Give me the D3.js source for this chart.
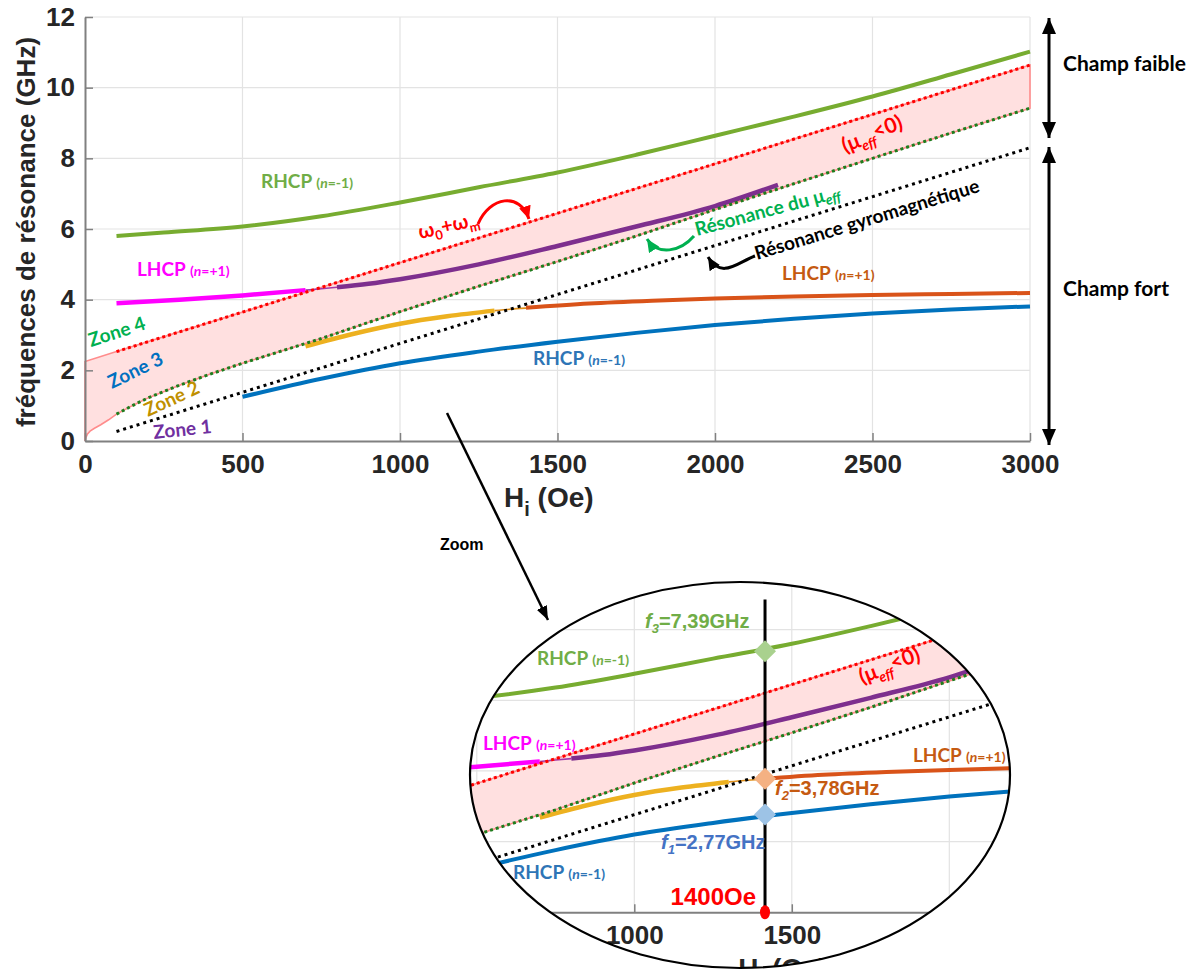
<!DOCTYPE html>
<html><head><meta charset="utf-8">
<script src="https://cdn.jsdelivr.net/npm/d3@7"></script>
<style>body{margin:0;background:#fff}svg{display:block}</style>
</head><body>
<svg id="c" width="1200" height="971"></svg>
<script>
// ---------------- DATA ----------------
const xTicks = [0, 500, 1000, 1500, 2000, 2500, 3000];
const yTicks = [0, 2, 4, 6, 8, 10, 12];
const insetXLabels = [1000, 1500];

// RHCP (n=-1) upper branch (green)
const rhcpUpH = [100, 250, 500, 750, 1000, 1250, 1500, 1750, 2000, 2250, 2500, 2750, 3000];
const rhcpUpF = [5.80, 5.90, 6.07, 6.36, 6.75, 7.18, 7.60, 8.10, 8.64, 9.18, 9.75, 10.38, 11.02];
// RHCP (n=-1) lower branch (blue)
const rhcpLoH = [500, 750, 1000, 1250, 1500, 1750, 2000, 2250, 2500, 2750, 3000];
const rhcpLoF = [1.25, 1.76, 2.20, 2.53, 2.81, 3.06, 3.28, 3.46, 3.61, 3.72, 3.81];
// LHCP (n=+1) upper branch: magenta part, thin link, purple part
const lhcpMagH = [100, 300, 500, 700];
const lhcpMagF = [3.90, 4.00, 4.12, 4.27];
const lhcpLinkUpH = [700, 750, 800];
const lhcpLinkUpF = [4.27, 4.31, 4.35];
const lhcpPurH = [800, 900, 1000, 1250, 1500, 1750, 2000, 2200];
const lhcpPurF = [4.35, 4.45, 4.58, 5.00, 5.52, 6.07, 6.65, 7.25];
// LHCP (n=+1) lower branch: yellow part, thin link, orange part
const lhcpYelH = [700, 850, 1000, 1150, 1300];
const lhcpYelF = [2.68, 3.03, 3.32, 3.53, 3.69];
const lhcpLinkLoH = [1300, 1350, 1400];
const lhcpLinkLoF = [3.69, 3.73, 3.76];
const lhcpOrH = [1400, 1600, 1800, 2000, 2250, 2500, 2750, 3000];
const lhcpOrF = [3.77, 3.89, 3.97, 4.03, 4.09, 4.13, 4.16, 4.19];
// omega0 + omegam (upper edge of the mu_eff<0 band)
const bandUpH = [0, 100, 3000];
const bandUpF = [2.25, 2.53, 10.64];
// resonance of mu_eff (lower edge of the band)
const bandLoH = [0, 3, 8, 16, 30, 50, 75, 100, 150, 200, 300, 400, 500, 750, 1000, 1250, 1500, 1750, 2000, 2250, 2500, 2750, 3000];
const bandLoF = [0, 0.10, 0.20, 0.28, 0.36, 0.46, 0.60, 0.76, 1.00, 1.22, 1.58, 1.90, 2.20, 2.90, 3.66, 4.38, 5.08, 5.80, 6.55, 7.28, 8.00, 8.72, 9.42];
// gyromagnetic resonance
const gyroH = [100, 3000];
const gyroF = [0.27, 8.30];
// zoom inset markers
const markerH = 1415;
const markerText = "1400Oe";
const markerF = [2.77, 3.78, 7.39];
const markerLabels = ["2,77GHz", "3,78GHz", "7,39GHz"];

// ---------------- SETUP ----------------
const AX = "'Liberation Sans', Arial, sans-serif";
const LB = "Lato, 'Open Sans', sans-serif";
const svg = d3.select('#c');
const x = d3.scaleLinear().domain([0, 3000]).range([85, 1030]);
const y = d3.scaleLinear().domain([0, 12]).range([441, 17]);
const pts = (H, F) => H.map((h, i) => [h, F[i]]);
const curve = d3.line().x(d => x(d[0])).y(d => y(d[1])).curve(d3.curveMonotoneX);
const poly = d3.line().x(d => x(d[0])).y(d => y(d[1]));

const defs = svg.append('defs');
function head(id, color, len, wid) {
  defs.append('marker').attr('id', id).attr('viewBox', `0 0 ${len} ${wid}`)
    .attr('refX', len).attr('refY', wid / 2).attr('markerWidth', len).attr('markerHeight', wid)
    .attr('markerUnits', 'userSpaceOnUse').attr('orient', 'auto-start-reverse')
    .append('path').attr('d', `M0,0L${len},${wid / 2}L0,${wid}Z`).attr('fill', color);
}
head('hBlack', '#000', 16, 14);
head('hZoom', '#000', 14, 11);
head('hRed', '#ff0000', 13, 12);
head('hGreen', '#00b050', 13, 12);
head('hBlk2', '#000', 13, 12);

defs.append('clipPath').attr('id', 'ellClip').append('ellipse')
  .attr('cx', 740).attr('cy', 775).attr('rx', 270).attr('ry', 193);

function rich(parent, x0, y0, parts, o) {
  const t = parent.append('text').attr('x', x0).attr('y', y0).attr('fill', o.color)
    .attr('font-family', o.family || LB).attr('font-weight', o.weight || 'bold').attr('font-size', o.size);
  if (o.rot) t.attr('transform', `rotate(${o.rot},${x0},${y0})`);
  if (o.anchor) t.attr('text-anchor', o.anchor);
  let shift = 0;
  parts.forEach(p => {
    const s = p.shift || 0;
    const ts = t.append('tspan').text(p.t).attr('dy', s - shift);
    shift = s;
    if (p.size) ts.attr('font-size', p.size);
    if (p.italic) ts.attr('font-style', 'italic');
  });
  return t;
}
function nLabel(parent, x0, y0, name, sign, color) {
  return rich(parent, x0, y0, [
    { t: name + ' ' }, { t: '(', size: 14 }, { t: 'n', size: 14, italic: true }, { t: '=' + sign + '1)', size: 14 }
  ], { color: color, size: 19 });
}

function drawPlot(g, opt) {
  // grid
  g.append('g').selectAll('line').data(xTicks.slice(1)).join('line')
    .attr('x1', d => x(d)).attr('x2', d => x(d)).attr('y1', y(0)).attr('y2', y(12))
    .attr('stroke', '#e3e3e3').attr('stroke-width', 1.2);
  g.append('g').selectAll('line').data(yTicks.slice(1)).join('line')
    .attr('x1', x(0)).attr('x2', x(3000)).attr('y1', d => y(d)).attr('y2', d => y(d))
    .attr('stroke', '#e3e3e3').attr('stroke-width', 1.2);
  // band mu_eff < 0
  const bandPoly = pts(bandLoH, bandLoF).concat(pts(bandUpH, bandUpF).reverse());
  g.append('path').attr('d', poly(bandPoly) + 'Z')
    .attr('fill', '#ffe0e0').attr('stroke', '#ff8c8c').attr('stroke-width', 1.6);
  // curves
  const L = (H, F, color, w) => g.append('path').attr('d', curve(pts(H, F)))
    .attr('fill', 'none').attr('stroke', color).attr('stroke-width', w).attr('stroke-linecap', 'butt');
  L(rhcpUpH, rhcpUpF, '#77ac30', 4);
  L(rhcpLoH, rhcpLoF, '#0072bd', 4);
  L(lhcpLinkUpH, lhcpLinkUpF, '#a33aa8', 1.6);
  L(lhcpMagH, lhcpMagF, '#ff00ff', 4.5);
  L(lhcpPurH, lhcpPurF, '#7e2f8e', 4.5);
  L(lhcpLinkLoH, lhcpLinkLoF, '#e0901c', 1.6);
  L(lhcpYelH, lhcpYelF, '#edb120', 4.5);
  L(lhcpOrH, lhcpOrF, '#d95319', 4);
  // dotted lines
  const D = (H, F, color, dash) => g.append('path').attr('d', poly(pts(H, F)))
    .attr('fill', 'none').attr('stroke', color).attr('stroke-width', 3).attr('stroke-dasharray', dash);
  D(bandUpH.slice(1), bandUpF.slice(1), '#ff0000', '3,3');
  D(bandLoH.filter(h => h >= 100), bandLoF.filter((f, i) => bandLoH[i] >= 100), '#1e7d1e', '3,3');
  D(gyroH, gyroF, '#000000', '3,4');
  // axes
  const ax = g.append('g').attr('transform', `translate(0,${y(0)})`)
    .call(d3.axisBottom(x).tickValues(xTicks).tickFormat(d3.format('d')).tickSize(-8).tickSizeOuter(0).tickPadding(13.5));
  const ay = g.append('g').attr('transform', `translate(${x(0)},0)`)
    .call(d3.axisLeft(y).tickValues(yTicks).tickFormat(d3.format('d')).tickSize(-8).tickSizeOuter(0).tickPadding(10));
  [ax, ay].forEach(a => {
    a.select('.domain').attr('stroke', '#808080').attr('stroke-width', 2);
    a.selectAll('.tick line').attr('stroke', '#808080').attr('stroke-width', 1.5);
    a.selectAll('.tick text').attr('font-family', AX).attr('font-weight', 'bold')
      .attr('font-size', 26).attr('fill', '#262626');
  });
  if (opt.xLabels) ax.selectAll('.tick text').filter(d => !opt.xLabels.includes(d)).remove();
  if (opt.noY) ay.selectAll('.tick text').remove();
  // x label
  rich(g, 504, 507, [{ t: 'H' }, { t: 'i', size: 20, shift: 9 }, { t: ' (Oe)', shift: 0 }],
    { color: '#262626', size: 28, family: AX });
}

// ---------------- MAIN CHART ----------------
const main = svg.append('g');
drawPlot(main, {});
main.append('text').attr('transform', 'translate(35,232) rotate(-90)').attr('text-anchor', 'middle')
  .attr('font-family', AX).attr('font-weight', 'bold').attr('font-size', 26).attr('fill', '#262626')
  .text('fréquences de résonance (GHz)');

// labels
nLabel(main, 261, 188, 'RHCP', '-', '#70ad47');
nLabel(main, 137, 276, 'LHCP', '+', '#ff00ff');
nLabel(main, 782, 280, 'LHCP', '+', '#c55a11');
nLabel(main, 533, 365, 'RHCP', '-', '#2e75b6');
rich(main, 91, 347, [{ t: 'Zone 4' }], { color: '#00b050', size: 19, rot: -18 });
rich(main, 112, 389, [{ t: 'Zone 3' }], { color: '#0070c0', size: 19, rot: -26 });
rich(main, 148, 417, [{ t: 'Zone 2' }], { color: '#bf9000', size: 19, rot: -25 });
rich(main, 154, 439, [{ t: 'Zone 1' }], { color: '#7030a0', size: 19, rot: -6 });
rich(main, 420, 239, [{ t: 'ω' }, { t: '0', size: 13, shift: 5 }, { t: '+ω', shift: 0 }, { t: 'm', size: 13, shift: 5 }],
  { color: '#ff0000', size: 20, rot: -13 });
rich(main, 845, 153, [{ t: '(μ' }, { t: 'eff', size: 14, italic: true, shift: 5 }, { t: '<0)', shift: -2 }],
  { color: '#ff0000', size: 21, rot: -21 });
rich(main, 697, 236, [{ t: 'Résonance du μ' }, { t: 'eff', size: 14, italic: true, shift: 4 }],
  { color: '#00b050', size: 19, rot: -15 });
rich(main, 757, 260, [{ t: 'Résonance gyromagnétique' }], { color: '#000', size: 19, rot: -17 });

// curved annotation arrows
main.append('path').attr('d', 'M478,224 C490,196 520,192 529,219').attr('fill', 'none')
  .attr('stroke', '#ff0000').attr('stroke-width', 3).attr('marker-end', 'url(#hRed)');
main.append('path').attr('d', 'M694,236 C680,252 658,256 647,239').attr('fill', 'none')
  .attr('stroke', '#00b050').attr('stroke-width', 3).attr('marker-end', 'url(#hGreen)');
main.append('path').attr('d', 'M755,256 C738,262 722,280 708,257').attr('fill', 'none')
  .attr('stroke', '#000').attr('stroke-width', 3).attr('marker-end', 'url(#hBlk2)');

// right double arrows
[[18, 138], [147, 445]].forEach(([a, b]) => {
  main.append('line').attr('x1', 1049).attr('x2', 1049).attr('y1', a).attr('y2', b)
    .attr('stroke', '#000').attr('stroke-width', 3)
    .attr('marker-start', 'url(#hBlack)').attr('marker-end', 'url(#hBlack)');
});
rich(main, 1063, 71, [{ t: 'Champ faible' }], { color: '#000', size: 21 });
rich(main, 1063, 296, [{ t: 'Champ fort' }], { color: '#000', size: 21 });

// zoom arrow
main.append('line').attr('x1', 447).attr('y1', 413).attr('x2', 548).attr('y2', 620)
  .attr('stroke', '#000').attr('stroke-width', 2.5).attr('marker-end', 'url(#hZoom)');
main.append('text').attr('x', 440).attr('y', 550).attr('font-family', AX).attr('font-weight', 'bold')
  .attr('font-size', 16).attr('fill', '#000').text('Zoom');

// ---------------- INSET ----------------
svg.append('ellipse').attr('cx', 740).attr('cy', 775).attr('rx', 270).attr('ry', 193).attr('fill', '#fff');
const clipG = svg.append('g').attr('clip-path', 'url(#ellClip)');
const inner = clipG.append('g').attr('transform', 'translate(234.3,471.3)');
drawPlot(inner, { xLabels: insetXLabels, noY: true });
// vertical marker line and points
inner.append('line').attr('x1', x(markerH)).attr('x2', x(markerH)).attr('y1', y(8.85)).attr('y2', y(0))
  .attr('stroke', '#000').attr('stroke-width', 3);
const diamondCol = ['#9dc3e6', '#f4b183', '#a9d18e'];
inner.selectAll('path.dm').data(markerF).join('path').attr('class', 'dm')
  .attr('d', 'M0,-11L11,0L0,11L-11,0Z')
  .attr('transform', d => `translate(${x(markerH)},${y(d)})`)
  .attr('fill', (d, i) => diamondCol[i]);
inner.append('ellipse').attr('cx', x(markerH)).attr('cy', y(0)).attr('rx', 5).attr('ry', 7).attr('fill', '#ff0000');

svg.append('ellipse').attr('cx', 740).attr('cy', 775).attr('rx', 270).attr('ry', 193)
  .attr('fill', 'none').attr('stroke', '#000').attr('stroke-width', 2.2);

// inset labels
const fCol = ['#4472c4', '#c55a11', '#70ad47'];
const fPos = [[661, 849], [775, 795], [645, 628]];
markerF.forEach((f, i) => {
  rich(svg, fPos[i][0], fPos[i][1], [{ t: 'f', italic: true }, { t: String(i + 1), size: 13, italic: true, shift: 5 },
    { t: '=' + markerLabels[i], shift: 0 }], { color: fCol[i], size: 20, family: AX });
});
svg.append('text').attr('x', 756).attr('y', 905).attr('text-anchor', 'end').attr('font-family', AX)
  .attr('font-weight', 'bold').attr('font-size', 24).attr('fill', '#ff0000').text(markerText);
nLabel(svg, 537, 665, 'RHCP', '-', '#70ad47');
nLabel(svg, 483, 750, 'LHCP', '+', '#ff00ff');
nLabel(svg, 513, 879, 'RHCP', '-', '#2e75b6');
nLabel(svg, 913, 762, 'LHCP', '+', '#c55a11');
rich(svg, 862, 684, [{ t: '(μ' }, { t: 'eff', size: 14, italic: true, shift: 5 }, { t: '<0)', shift: -2 }],
  { color: '#ff0000', size: 21, rot: -20 });
</script>
</body></html>
